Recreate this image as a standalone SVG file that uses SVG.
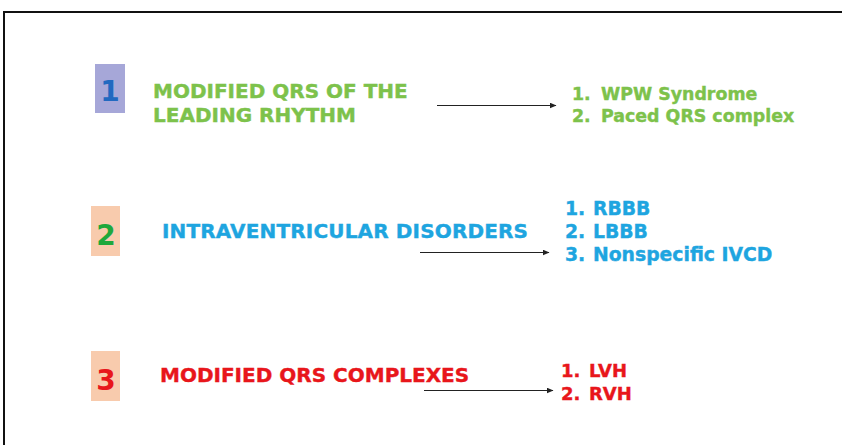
<svg xmlns="http://www.w3.org/2000/svg" width="842" height="445" viewBox="0 0 842 445">
<defs>
<marker id="ah" markerWidth="7" markerHeight="6" refX="6.5" refY="3" orient="auto" markerUnits="userSpaceOnUse">
<path d="M0,0 L7,3 L0,6 Z" fill="#222"/>
</marker>
<style>
text{font-family:"DejaVu Sans","Verdana",sans-serif;font-weight:bold;stroke-width:0.4}
.t{font-size:20px}
.l{font-size:18px}
.l1{font-size:17.4px}
.l2{font-size:18.8px}
.n{font-size:28px;text-anchor:middle}
.g{fill:#7DC24B;stroke:#7DC24B}
.b{fill:#1EA5E0;stroke:#1EA5E0}
.r{fill:#E8161B;stroke:#E8161B}
.arr{stroke:#222;stroke-width:1.2;fill:none;marker-end:url(#ah)}
</style>
</defs>
<rect x="0" y="0" width="842" height="445" fill="#fff"/>
<path d="M4,445 V12 H842" fill="none" stroke="#111" stroke-width="2"/>
<g id="n1">
<rect x="95" y="64" width="30" height="49" fill="#A6A7D8"/>
<text class="n" x="110" y="101" fill="#2169C0">1</text>
</g>
<g id="t1">
<text class="t g" x="153" y="98">MODIFIED QRS OF THE</text>
<text class="t g" x="153" y="122">LEADING RHYTHM</text>
</g>
<g id="l1">
<text class="l1 g" x="572" y="100">1.</text><text class="l1 g" x="601" y="100">WPW Syndrome</text>
<text class="l1 g" x="572" y="122">2.</text><text class="l1 g" x="601" y="122">Paced QRS complex</text>
</g>
<g id="n2">
<rect x="91" y="206" width="29" height="50" fill="#F8CBAD"/>
<text class="n" x="106" y="245" fill="#1EA83C">2</text>
</g>
<g id="t2">
<text class="t b" x="162" y="238" textLength="366">INTRAVENTRICULAR DISORDERS</text>
</g>
<g id="l2">
<text class="l2 b" x="565" y="215">1.</text><text class="l2 b" x="593" y="215">RBBB</text>
<text class="l2 b" x="565" y="238">2.</text><text class="l2 b" x="593" y="238">LBBB</text>
<text class="l2 b" x="565" y="261">3.</text><text class="l2 b" x="593" y="261">Nonspecific IVCD</text>
</g>
<g id="n3">
<rect x="91" y="351" width="29" height="50" fill="#F8CBAD"/>
<text class="n" x="106" y="390" fill="#E8161B">3</text>
</g>
<g id="t3">
<text class="t r" x="160" y="382">MODIFIED QRS COMPLEXES</text>
</g>
<g id="l3">
<text class="l r" x="561" y="377">1.</text><text class="l r" x="589" y="377">LVH</text>
<text class="l r" x="561" y="400">2.</text><text class="l r" x="589" y="400">RVH</text>
</g>
<g id="connectors">
<line class="arr" x1="437" y1="105.5" x2="556" y2="105.5"/>
<line class="arr" x1="420" y1="252.5" x2="549" y2="252.5"/>
<line class="arr" x1="424" y1="390.5" x2="553" y2="390.5"/>
</g>
</svg>
